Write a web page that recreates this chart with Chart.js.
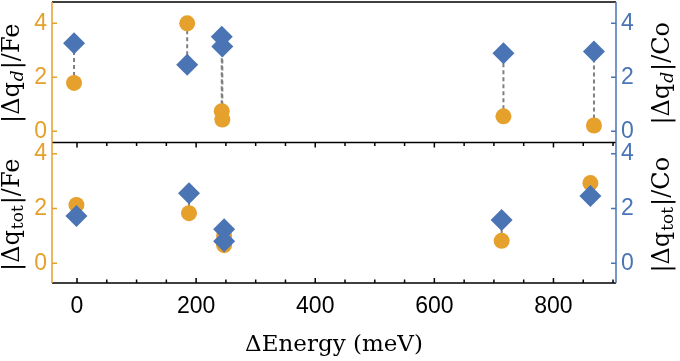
<!DOCTYPE html>
<html>
<head>
<meta charset="utf-8">
<script src="https://cdn.jsdelivr.net/npm/chart.js@4/dist/chart.umd.min.js"></script>
<style>
  html, body { margin: 0; padding: 0; background: #fff; }
  #wrap { width: 680px; height: 361px; }
</style>
</head>
<body>
<div id="wrap"><canvas id="chart" width="680" height="361"></canvas></div>
<script>
// top panel, |dq_d|
var energyTop = [-5, 185, 243, 244, 716, 868]
var qdFe = [1.79, 4.0, 0.74, 0.43, 0.55, 0.21]
var qdCo = [3.26, 2.46, 3.5, 3.14, 2.89, 2.95]

// bottom panel, |dq_tot|
var energyBot = [-1, 188, 247, 247, 713, 862]
var qtotFe = [2.13, 1.83, 1.0, 0.66, 0.82, 2.93]
var qtotCo = [1.73, 2.56, 1.24, 0.8, 1.58, 2.46]

var xTicks = [0, 200, 400, 600, 800]
var yTicks = [0, 2, 4]

var orange = '#E6A02C'
var blue = '#4A74B4'
var tickFont = { family: 'Liberation Sans', size: 23 }

function pts(xs, ys) {
  return xs.map(function (x, i) { return { x: x, y: ys[i] } })
}

function yScale(pos, stack, weight, min, max, color) {
  return {
    type: 'linear',
    position: pos,
    stack: stack,
    stackWeight: 1,
    weight: weight,
    min: min,
    max: max,
    afterBuildTicks: function (s) {
      s.ticks = yTicks.map(function (v) { return { value: v } })
    },
    grid: { display: false, drawTicks: false },
    border: { display: false },
    ticks: { color: color, font: tickFont, padding: 5 },
    afterFit: function (s) {
      s.width = (pos === 'left') ? 52 : 64
      s.paddingTop = 0
      s.paddingBottom = 0
    }
  }
}

function drawYTitle(ctx, cx, cy, sub, subItalic, atom) {
  var big = '24px "DejaVu Serif"'
  var small = (subItalic ? 'italic ' : '') + '17px "DejaVu Serif"'
  var parts = [['|Δq', big, 0], [sub, small, 6], ['|/' + atom, big, 0]]
  ctx.save()
  ctx.translate(cx, cy)
  ctx.rotate(-Math.PI / 2)
  ctx.fillStyle = '#000'
  ctx.textBaseline = 'middle'
  var total = 0
  parts.forEach(function (p) { ctx.font = p[1]; total += ctx.measureText(p[0]).width })
  var x = -total / 2
  parts.forEach(function (p) {
    ctx.font = p[1]
    ctx.fillText(p[0], x, p[2])
    x += ctx.measureText(p[0]).width + 1
  })
  ctx.restore()
}

// grey dashed connectors between the Fe and Co point of each structure
var connectors = {
  id: 'connectors',
  beforeDatasetsDraw: function (chart) {
    var ctx = chart.ctx
    ctx.save()
    ctx.strokeStyle = '#7f7f7f'
    ctx.lineWidth = 2
    ctx.setLineDash([4, 3])
    ;[[2, 0], [3, 1]].forEach(function (pair) {
      var fe = chart.getDatasetMeta(pair[0]).data
      var co = chart.getDatasetMeta(pair[1]).data
      for (var i = 0; i < fe.length; i++) {
        ctx.beginPath()
        ctx.moveTo(fe[i].x, fe[i].y)
        ctx.lineTo(co[i].x, co[i].y)
        ctx.stroke()
      }
    })
    ctx.restore()
  }
}

// frame, inner ticks and the rotated axis titles
var frame = {
  id: 'frame',
  afterDraw: function (chart) {
    var ctx = chart.ctx
    var a = chart.chartArea
    var s = chart.scales
    var mid = s.yFeTop.bottom
    ctx.save()
    ctx.lineWidth = 1.5

    // x ticks every 50, on the middle line (down) and the bottom line (up)
    ctx.strokeStyle = '#000'
    for (var v = Math.ceil(s.x.min / 50) * 50; v <= s.x.max; v += 50) {
      var px = s.x.getPixelForValue(v)
      var len = (v % 200 === 0) ? 5 : 3.5
      ctx.beginPath()
      ctx.moveTo(px, mid); ctx.lineTo(px, mid + len)
      ctx.moveTo(px, a.bottom); ctx.lineTo(px, a.bottom - len)
      ctx.stroke()
    }

    ctx.beginPath()
    ctx.moveTo(a.left, a.top); ctx.lineTo(a.right, a.top)
    ctx.moveTo(a.left, mid); ctx.lineTo(a.right, mid)
    ctx.moveTo(a.left, a.bottom); ctx.lineTo(a.right, a.bottom)
    ctx.stroke()

    // left (Fe) and right (Co) axes
    ;[['yFeTop', orange, a.left, 5], ['yFeBot', orange, a.left, 5],
      ['yCoTop', blue, a.right, -5], ['yCoBot', blue, a.right, -5]].forEach(function (d) {
      var sc = s[d[0]]
      ctx.strokeStyle = d[1]
      ctx.beginPath()
      ctx.moveTo(d[2], sc.top); ctx.lineTo(d[2], sc.bottom)
      yTicks.forEach(function (t) {
        var py = sc.getPixelForValue(t)
        ctx.moveTo(d[2], py); ctx.lineTo(d[2] + d[3], py)
      })
      ctx.stroke()
    })
    ctx.restore()

    var topMid = (s.yFeTop.top + s.yFeTop.bottom) / 2 + 2
    var botMid = (s.yFeBot.top + s.yFeBot.bottom) / 2 + 3
    drawYTitle(ctx, 13, topMid, 'd', true, 'Fe')
    drawYTitle(ctx, 13, botMid, 'tot', false, 'Fe')
    drawYTitle(ctx, 663, topMid, 'd', true, 'Co')
    drawYTitle(ctx, 663, botMid, 'tot', false, 'Co')
  }
}

var chart = new Chart(document.getElementById('chart').getContext('2d'), {
  type: 'scatter',
  data: {
    datasets: [
      { label: 'Co d', data: pts(energyTop, qdCo), yAxisID: 'yCoTop', pointStyle: 'rectRot',
        pointRadius: 11, backgroundColor: blue, borderWidth: 0, order: 0 },
      { label: 'Co tot', data: pts(energyBot, qtotCo), yAxisID: 'yCoBot', pointStyle: 'rectRot',
        pointRadius: 11, backgroundColor: blue, borderWidth: 0, order: 0 },
      { label: 'Fe d', data: pts(energyTop, qdFe), yAxisID: 'yFeTop', pointStyle: 'circle',
        pointRadius: 8, backgroundColor: orange, borderWidth: 0, order: 1 },
      { label: 'Fe tot', data: pts(energyBot, qtotFe), yAxisID: 'yFeBot', pointStyle: 'circle',
        pointRadius: 8, backgroundColor: orange, borderWidth: 0, order: 1 }
    ]
  },
  options: {
    responsive: false,
    animation: false,
    events: [],
    layout: { autoPadding: false, padding: { top: 2, left: 0, right: 0, bottom: 0 } },
    plugins: { legend: { display: false }, tooltip: { enabled: false } },
    scales: {
      x: {
        type: 'linear',
        position: 'bottom',
        min: -42,
        max: 905,
        afterBuildTicks: function (s) {
          s.ticks = xTicks.map(function (v) { return { value: v } })
        },
        grid: { display: false, drawTicks: false },
        border: { display: false },
        ticks: { color: '#000', font: tickFont, padding: 10, maxRotation: 0 },
        title: {
          display: true,
          text: 'ΔEnergy (meV)',
          color: '#000',
          font: { family: 'DejaVu Serif', size: 23 },
          padding: { top: 0, bottom: 2 }
        },
        afterFit: function (s) { s.height = 78 }
      },
      yFeTop: yScale('left', 'left', 1, -0.42, 4.79, orange),
      yFeBot: yScale('left', 'left', 0, -0.72, 4.41, orange),
      yCoTop: yScale('right', 'right', 0, -0.42, 4.79, blue),
      yCoBot: yScale('right', 'right', 1, -0.72, 4.41, blue)
    }
  },
  plugins: [connectors, frame]
})
</script>
</body>
</html>
